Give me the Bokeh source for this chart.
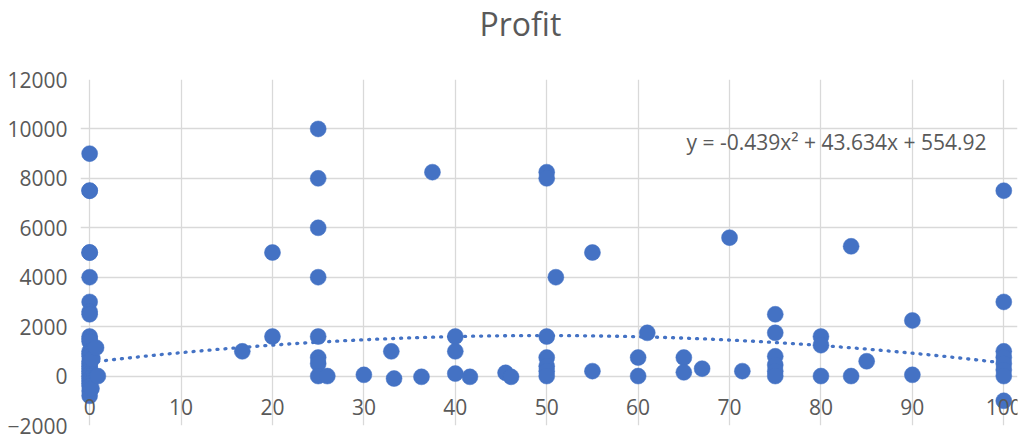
from bokeh.plotting import figure
from bokeh.models import ColumnDataSource, Label, Range1d, FixedTicker, Title
from bokeh.embed import file_html
from bokeh.resources import INLINE
import numpy as np

# ---- data ----
x_zero = [0, 0, 0, 0, 0, 0, 0, 0, 0, 0, 0, 0, 0, 0, 0, 0, 0, 0, 0, 0,
          0, 0, 0, 0, 0, 0, 0, 0, 0.3, 0.2, 0.7, 0.9]
y_zero = [9000, 7500, 7500, 5000, 5000, 4000, 3000, 2600, 2500, 1600, 1500, 1400,
          1000, 900, 800, 600, 500, 400, 300, 200, 100, 0, -100, -200, -300, -400,
          -600, -800, 700, -500, 1150, 0]
x_rest = [16.7, 20, 20, 25, 25, 25, 25, 25, 25, 25, 25, 26, 30, 33, 33.3, 36.3, 37.5,
          40, 40, 40, 41.6, 45.5, 46.1, 50, 50, 50, 50, 50, 50, 50, 51, 55, 55,
          60, 60, 61, 65, 65, 67, 70, 71.4, 75, 75, 75, 75, 75, 75, 80, 80, 80,
          83.3, 83.3, 85, 90, 90, 100, 100, 100, 100, 100, 100, 100, 100]
y_rest = [1000, 5000, 1600, 10000, 8000, 6000, 4000, 1600, 750, 500, 0, 0, 50, 1000, -100, -30, 8250,
          1600, 1000, 100, -30, 130, -30, 8250, 8000, 1600, 750, 400, 200, 0, 4000, 5000, 200,
          750, 0, 1750, 750, 150, 300, 5600, 200, 2500, 1750, 800, 450, 200, 0, 1600, 1250, 0,
          5250, 0, 600, 2250, 50, 7500, 3000, 1000, 750, 500, 250, 0, -1000]
x_vals = x_zero + x_rest
y_vals = y_zero + y_rest

# trendline coefficients (from the chart's equation)
coef_a, coef_b, coef_c = -0.439, 43.634, 554.92
equation = "y = -0.439x\u00b2 + 43.634x + 554.92"
title_text = "Profit"
x_ticks = [0, 10, 20, 30, 40, 50, 60, 70, 80, 90, 100]
y_ticks = [-2000, 0, 2000, 4000, 6000, 8000, 10000, 12000]

BLUE = "#4472C4"
GRID = "#D9D9D9"
TXT = "#595959"
FONT = "Open Sans"

p = figure(width=1026, height=439, output_backend="svg", toolbar_location=None,
           x_range=Range1d(-1, 101.5), y_range=Range1d(-2000, 12000),
           min_border_left=80, min_border_right=9, min_border_top=79, min_border_bottom=14)
p.outline_line_color = None
p.background_fill_color = "white"
p.border_fill_color = "white"

# near-invisible spacer between plot area and title
p.add_layout(Title(text=" ", standoff=30, text_font_size="1px", text_color="white"), "above")

p.title.text = title_text
p.title.text_font = FONT
p.title.text_font_size = "32px"
p.title.text_font_style = "normal"
p.title.text_color = TXT
p.title.align = "left"
p.title.offset = 399
p.title.vertical_align = "top"
p.title.standoff = 0

# grid
p.xgrid.ticker = FixedTicker(ticks=x_ticks)
p.ygrid.ticker = FixedTicker(ticks=y_ticks)
for g in (p.xgrid, p.ygrid):
    g.grid_line_color = GRID
    g.grid_line_width = 1.3
p.xgrid.bounds = (0, 100)
p.ygrid.bounds = (-2000, 12000)

# axes
p.yaxis.ticker = FixedTicker(ticks=y_ticks)
p.xaxis.ticker = FixedTicker(ticks=x_ticks)
for ax in (p.xaxis, p.yaxis):
    ax.axis_line_color = None
    ax.major_tick_line_color = None
    ax.minor_tick_line_color = None
    ax.major_label_text_font = FONT
    ax.major_label_text_font_size = "21px"
    ax.major_label_text_color = TXT
p.yaxis.major_label_standoff = 7
p.xaxis.fixed_location = 0
p.xaxis.major_label_standoff = 17

# trendline
tx = np.linspace(0, 100, 201)
ty = coef_a * tx**2 + coef_b * tx + coef_c
p.line(tx, ty, line_color=BLUE, line_width=3.3, line_dash="1 7", line_cap="round")

# points
src = ColumnDataSource(dict(x=x_vals, y=y_vals))
p.scatter("x", "y", source=src, size=16, fill_color=BLUE, line_color=BLUE, line_width=0.5)

p.add_layout(Label(x=65.3, y=9470, text=equation, text_font=FONT, text_font_size="21px",
                   text_color=TXT, text_baseline="middle", text_align="left"))

open("out.html", "w").write(file_html(p, INLINE))
